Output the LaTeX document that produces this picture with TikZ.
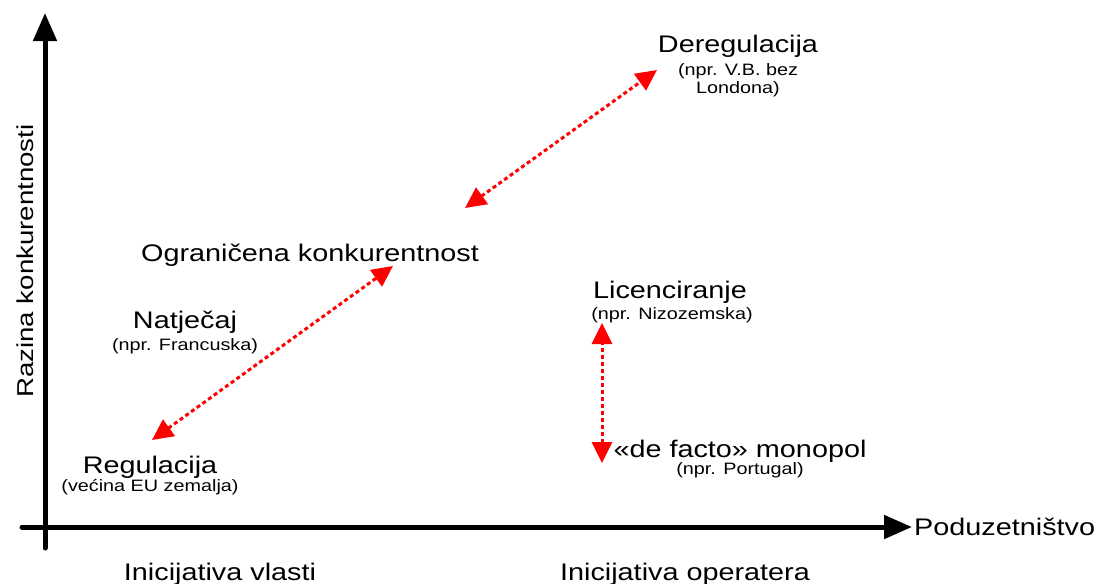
\documentclass[tikz,border=0pt]{standalone}
\usepackage{fontspec}
\setmainfont{Liberation Sans}[FakeStretch=1.2]
\usepackage{tikz}
\usetikzlibrary{arrows.meta}
\tikzstyle{axis} = [line width=5pt,line cap=round,-{Triangle[length=28pt,width=23pt]}]
\tikzstyle{link} = [red,line width=3pt,dash pattern=on 4pt off 3pt,{Triangle[length=21pt,width=20pt]}-{Triangle[length=21pt,width=20pt]}]
\tikzstyle{big} = [inner sep=0pt,anchor=base,font=\fontsize{24}{28}\selectfont]
\tikzstyle{small} = [inner sep=0pt,anchor=base,font=\fontsize{16.5}{19}\selectfont]

\begin{document}
\begin{tikzpicture}[x=1pt,y=-1pt]
	\useasboundingbox (0,0) rectangle (1104,584);
	
	% Axes:
	\coordinate (ybot) at (45,548);
	\coordinate (ytop) at (45,13);
	\coordinate (xleft) at (22,527);
	\coordinate (xright) at (912,527);
	\draw [axis] (ybot) -- (ytop);
	\draw [axis] (xleft) -- (xright);
	\node [big,anchor=west] (podu) at (914,527) {Poduzetništvo};
	\node [big,rotate=90,font=\fontsize{23}{27}\selectfont] (razina) at (33,261) {Razina konkurentnosti};
	\node [big] (vlast) at (220,580) {Inicijativa vlasti};
	\node [big] (oper) at (685,580) {Inicijativa operatera};
	
	% Labels:
	\node [big] (dereg) at (738,52) {Deregulacija};
	\node [small] (dereg1) at (738,75) {(npr. V.B. bez};
	\node [small] (dereg2) at (738,93) {Londona)};
	
	\node [big] (ogran) at (310,261) {Ograničena konkurentnost};
	
	\node [big] (natj) at (185,328) {Natječaj};
	\node [small] (natj1) at (185,350) {(npr. Francuska)};
	
	\node [big] (reg) at (150,473) {Regulacija};
	\node [small] (reg1) at (150,491) {(većina EU zemalja)};
	
	\node [big] (lic) at (670,298) {Licenciranje};
	\node [small] (lic1) at (672,319) {(npr. Nizozemska)};
	
	\node [big] (mono) at (740,457) {«de facto» monopol};
	\node [small] (mono1) at (740,474) {(npr. Portugal)};
	
	% Arrows between the levels:
	\coordinate (a1) at (465,208);
	\coordinate (b1) at (657,70);
	\coordinate (a2) at (152,440);
	\coordinate (b2) at (393,266);
	\coordinate (a3) at (602,463);
	\coordinate (b3) at (602,323);
	\draw [link] (a1) -- (b1);
	\draw [link] (a2) -- (b2);
	\draw [link] (a3) -- (b3);
	
\end{tikzpicture}
\end{document}
